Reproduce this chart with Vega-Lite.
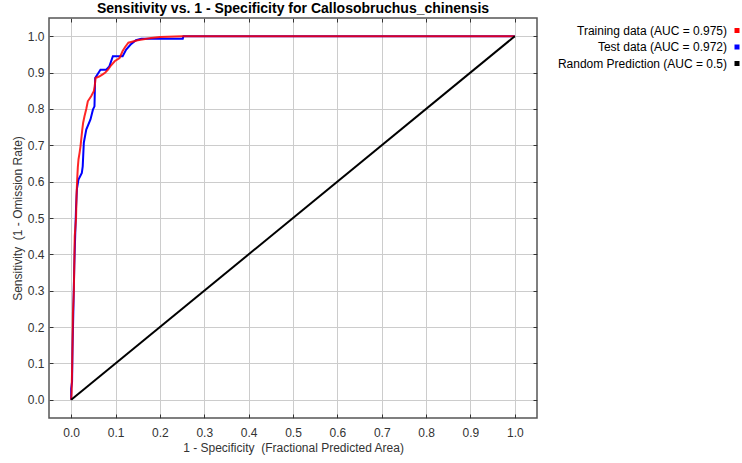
{
  "$schema": "https://vega.github.io/schema/vega-lite/v6.json",
  "autosize": {"type": "none"},
  "padding": {"left": 49, "top": 18, "right": 205, "bottom": 45},
  "background": "white",
  "title": {
    "text": "Sensitivity vs. 1 - Specificity for Callosobruchus_chinensis",
    "font": "Liberation Sans",
    "fontSize": 14,
    "fontWeight": "bold",
    "color": "black",
    "anchor": "middle",
    "offset": 2
  },
  "config": {
    "view": {"stroke": "#555555", "strokeWidth": 1.5},
    "axis": {
      "labelFont": "Liberation Sans",
      "titleFont": "Liberation Sans",
      "labelFontSize": 12,
      "titleFontSize": 12,
      "titleFontWeight": "normal",
      "labelColor": "#333333",
      "titleColor": "#333333",
      "gridColor": "#cccccc",
      "gridWidth": 1,
      "tickColor": "#333333",
      "domain": false
    },
    "legend": {
      "labelFont": "Liberation Sans",
      "labelFontSize": 12,
      "labelColor": "black"
    }
  },
  "data": {
    "values": [
      {"series": "Training data (AUC = 0.975)", "fpa": 0, "sens": 0},
      {"series": "Training data (AUC = 0.975)", "fpa": 0.001, "sens": 0.02},
      {"series": "Training data (AUC = 0.975)", "fpa": 0.002, "sens": 0.08},
      {"series": "Training data (AUC = 0.975)", "fpa": 0.003, "sens": 0.15},
      {"series": "Training data (AUC = 0.975)", "fpa": 0.004, "sens": 0.24},
      {"series": "Training data (AUC = 0.975)", "fpa": 0.006, "sens": 0.3},
      {"series": "Training data (AUC = 0.975)", "fpa": 0.007, "sens": 0.37},
      {"series": "Training data (AUC = 0.975)", "fpa": 0.008, "sens": 0.45},
      {"series": "Training data (AUC = 0.975)", "fpa": 0.011, "sens": 0.5},
      {"series": "Training data (AUC = 0.975)", "fpa": 0.012, "sens": 0.56},
      {"series": "Training data (AUC = 0.975)", "fpa": 0.0135, "sens": 0.606},
      {"series": "Training data (AUC = 0.975)", "fpa": 0.015, "sens": 0.64},
      {"series": "Training data (AUC = 0.975)", "fpa": 0.0165, "sens": 0.661},
      {"series": "Training data (AUC = 0.975)", "fpa": 0.019, "sens": 0.68},
      {"series": "Training data (AUC = 0.975)", "fpa": 0.021, "sens": 0.697},
      {"series": "Training data (AUC = 0.975)", "fpa": 0.023, "sens": 0.72},
      {"series": "Training data (AUC = 0.975)", "fpa": 0.025, "sens": 0.743},
      {"series": "Training data (AUC = 0.975)", "fpa": 0.027, "sens": 0.762},
      {"series": "Training data (AUC = 0.975)", "fpa": 0.03, "sens": 0.78},
      {"series": "Training data (AUC = 0.975)", "fpa": 0.034, "sens": 0.8},
      {"series": "Training data (AUC = 0.975)", "fpa": 0.0375, "sens": 0.821},
      {"series": "Training data (AUC = 0.975)", "fpa": 0.045, "sens": 0.835},
      {"series": "Training data (AUC = 0.975)", "fpa": 0.051, "sens": 0.849},
      {"series": "Training data (AUC = 0.975)", "fpa": 0.053, "sens": 0.862},
      {"series": "Training data (AUC = 0.975)", "fpa": 0.055, "sens": 0.885},
      {"series": "Training data (AUC = 0.975)", "fpa": 0.063, "sens": 0.889},
      {"series": "Training data (AUC = 0.975)", "fpa": 0.071, "sens": 0.895},
      {"series": "Training data (AUC = 0.975)", "fpa": 0.077, "sens": 0.9},
      {"series": "Training data (AUC = 0.975)", "fpa": 0.083, "sens": 0.908},
      {"series": "Training data (AUC = 0.975)", "fpa": 0.09, "sens": 0.92},
      {"series": "Training data (AUC = 0.975)", "fpa": 0.098, "sens": 0.931},
      {"series": "Training data (AUC = 0.975)", "fpa": 0.109, "sens": 0.94},
      {"series": "Training data (AUC = 0.975)", "fpa": 0.116, "sens": 0.959},
      {"series": "Training data (AUC = 0.975)", "fpa": 0.122, "sens": 0.971},
      {"series": "Training data (AUC = 0.975)", "fpa": 0.129, "sens": 0.982},
      {"series": "Training data (AUC = 0.975)", "fpa": 0.15, "sens": 0.989},
      {"series": "Training data (AUC = 0.975)", "fpa": 0.18, "sens": 0.995},
      {"series": "Training data (AUC = 0.975)", "fpa": 0.2, "sens": 0.998},
      {"series": "Training data (AUC = 0.975)", "fpa": 0.25, "sens": 1.0},
      {"series": "Training data (AUC = 0.975)", "fpa": 1.0, "sens": 1.0},
      {"series": "Test data (AUC = 0.972)", "fpa": 0, "sens": 0},
      {"series": "Test data (AUC = 0.972)", "fpa": 0.0, "sens": 0.03},
      {"series": "Test data (AUC = 0.972)", "fpa": 0.002, "sens": 0.05},
      {"series": "Test data (AUC = 0.972)", "fpa": 0.003, "sens": 0.14},
      {"series": "Test data (AUC = 0.972)", "fpa": 0.005, "sens": 0.25},
      {"series": "Test data (AUC = 0.972)", "fpa": 0.007, "sens": 0.37},
      {"series": "Test data (AUC = 0.972)", "fpa": 0.009, "sens": 0.45},
      {"series": "Test data (AUC = 0.972)", "fpa": 0.011, "sens": 0.53},
      {"series": "Test data (AUC = 0.972)", "fpa": 0.013, "sens": 0.58},
      {"series": "Test data (AUC = 0.972)", "fpa": 0.0165, "sens": 0.606},
      {"series": "Test data (AUC = 0.972)", "fpa": 0.024, "sens": 0.624},
      {"series": "Test data (AUC = 0.972)", "fpa": 0.026, "sens": 0.642},
      {"series": "Test data (AUC = 0.972)", "fpa": 0.0285, "sens": 0.707},
      {"series": "Test data (AUC = 0.972)", "fpa": 0.034, "sens": 0.743},
      {"series": "Test data (AUC = 0.972)", "fpa": 0.0435, "sens": 0.771},
      {"series": "Test data (AUC = 0.972)", "fpa": 0.049, "sens": 0.798},
      {"series": "Test data (AUC = 0.972)", "fpa": 0.0525, "sens": 0.807},
      {"series": "Test data (AUC = 0.972)", "fpa": 0.054, "sens": 0.885},
      {"series": "Test data (AUC = 0.972)", "fpa": 0.066, "sens": 0.908},
      {"series": "Test data (AUC = 0.972)", "fpa": 0.079, "sens": 0.908},
      {"series": "Test data (AUC = 0.972)", "fpa": 0.086, "sens": 0.917},
      {"series": "Test data (AUC = 0.972)", "fpa": 0.094, "sens": 0.945},
      {"series": "Test data (AUC = 0.972)", "fpa": 0.116, "sens": 0.945},
      {"series": "Test data (AUC = 0.972)", "fpa": 0.124, "sens": 0.963},
      {"series": "Test data (AUC = 0.972)", "fpa": 0.134, "sens": 0.977},
      {"series": "Test data (AUC = 0.972)", "fpa": 0.146, "sens": 0.989},
      {"series": "Test data (AUC = 0.972)", "fpa": 0.158, "sens": 0.993},
      {"series": "Test data (AUC = 0.972)", "fpa": 0.2515, "sens": 0.993},
      {"series": "Test data (AUC = 0.972)", "fpa": 0.253, "sens": 1.0},
      {"series": "Test data (AUC = 0.972)", "fpa": 1.0, "sens": 1.0},
      {"series": "Random Prediction (AUC = 0.5)", "fpa": 0, "sens": 0},
      {"series": "Random Prediction (AUC = 0.5)", "fpa": 1, "sens": 1}
    ]
  },
  "resolve": {"axis": {"x": "independent", "y": "independent"}},
  "layer": [
    {
      "width": 488,
      "height": 400,
      "encoding": {
        "x": {
          "field": "fpa",
          "type": "quantitative",
          "scale": {"domain": [-0.05, 1.05], "nice": false, "zero": false},
          "axis": {
            "orient": "bottom",
            "values": [0, 0.1, 0.2, 0.3, 0.4, 0.5, 0.6, 0.7, 0.8, 0.9, 1.0],
            "format": ".1f",
            "title": "1 - Specificity \u00a0(Fractional Predicted Area)",
            "tickSize": -4,
            "labelPadding": 13,
            "titlePadding": 4,
            "grid": true
          }
        },
        "y": {
          "field": "sens",
          "type": "quantitative",
          "scale": {"domain": [-0.05, 1.05], "nice": false, "zero": false},
          "axis": {
            "orient": "left",
            "values": [0, 0.1, 0.2, 0.3, 0.4, 0.5, 0.6, 0.7, 0.8, 0.9, 1.0],
            "format": ".1f",
            "title": "Sensitivity \u00a0(1 - Omission Rate)",
            "tickSize": -4,
            "labelPadding": 9,
            "titlePadding": 3,
            "grid": true
          }
        },
        "order": [{"field": "fpa"}, {"field": "sens"}],
        "color": {
          "field": "series",
          "type": "nominal",
          "scale": {
            "domain": ["Training data (AUC = 0.975)", "Test data (AUC = 0.972)", "Random Prediction (AUC = 0.5)"],
            "range": ["#ff0000", "#0000ff", "#000000"]
          },
          "legend": {
            "title": null,
            "orient": "none",
            "legendX": 682,
            "legendY": 6.5,
            "symbolType": "square",
            "symbolSize": 9,
            "symbolStrokeWidth": 2,
            "labelAlign": "right",
            "labelOffset": -16,
            "labelLimit": 400,
            "rowPadding": 4.5,
            "encode": {
              "symbols": {"update": {"fill": {"scale": "color", "field": "value"}}}
            }
          }
        }
      },
      "layer": [
        {
          "transform": [{"filter": "datum.series === 'Test data (AUC = 0.972)'"}],
          "mark": {"type": "line", "strokeWidth": 2}
        },
        {
          "transform": [{"filter": "datum.series === 'Training data (AUC = 0.975)'"}],
          "mark": {"type": "line", "strokeWidth": 2, "opacity": 0.85}
        },
        {
          "transform": [{"filter": "datum.series === 'Random Prediction (AUC = 0.5)'"}],
          "mark": {"type": "line", "strokeWidth": 2}
        }
      ]
    },
    {
      "width": 488,
      "height": 400,
      "mark": {"type": "point", "opacity": 0},
      "encoding": {
        "x": {"field": "fpa", "type": "quantitative", "scale": {"domain": [-0.05, 1.05], "nice": false, "zero": false}, "axis": {"orient": "top", "labels": false, "title": null, "grid": false, "tickSize": -4, "values": [0, 0.1, 0.2, 0.3, 0.4, 0.5, 0.6, 0.7, 0.8, 0.9, 1.0]}},
        "y": {"field": "sens", "type": "quantitative", "scale": {"domain": [-0.05, 1.05], "nice": false, "zero": false}, "axis": {"orient": "right", "labels": false, "title": null, "grid": false, "tickSize": -4, "values": [0, 0.1, 0.2, 0.3, 0.4, 0.5, 0.6, 0.7, 0.8, 0.9, 1.0]}}
      }
    }
  ]
}
